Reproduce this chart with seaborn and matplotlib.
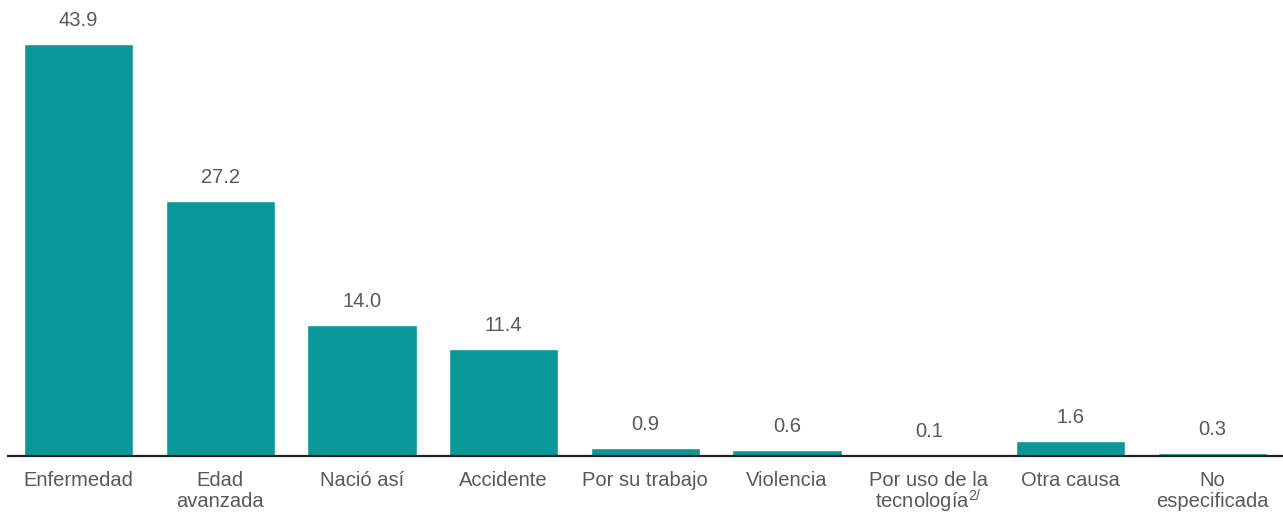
import pandas as pd
import matplotlib
matplotlib.use('Agg')
import matplotlib.pyplot as plt
import seaborn as sns

# --- Data ---
categories = ['Enfermedad', 'Edad\navanzada', 'Nació así', 'Accidente', 'Por su trabajo',
              'Violencia', 'Por uso de la\ntecnología$^{\\mathregular{2/}}$', 'Otra causa',
              'No\nespecificada']
values = [43.9, 27.2, 14.0, 11.4, 0.9, 0.6, 0.1, 1.6, 0.3]
value_labels = ['43.9', '27.2', '14.0', '11.4', '0.9', '0.6', '0.1', '1.6', '0.3']

BAR_COLOR = '#0A9799'
TEXT_COLOR = '#595959'
FS = 14.5

sns.set_theme(style='white')
plt.rcParams['font.family'] = ['Liberation Sans', 'DejaVu Sans']
plt.rcParams['mathtext.fontset'] = 'custom'
plt.rcParams['mathtext.rm'] = 'Liberation Sans'

df = pd.DataFrame({'cat': categories, 'val': values})

fig = plt.figure(figsize=(12.83, 5.15), dpi=100)
ax = fig.add_axes([0.006, 0.1146, 0.994, 0.8854])

sns.barplot(data=df, x='cat', y='val', color=BAR_COLOR, saturation=1, width=0.77, ax=ax)

# value labels above bars
for i, (v, lab) in enumerate(zip(values, value_labels)):
    ax.annotate(lab, (i, v), xytext=(0, 10), textcoords='offset points',
                ha='center', va='bottom', fontsize=FS, color=TEXT_COLOR)

ax.set_ylim(0, 48.6)
ax.set_xlim(-0.5, 8.5)
ax.set_xlabel('')
ax.set_ylabel('')
ax.set_yticks([])
for side in ['top', 'right', 'left']:
    ax.spines[side].set_visible(False)
ax.spines['bottom'].set_color('#222222')
ax.spines['bottom'].set_linewidth(1.6)
ax.tick_params(axis='x', length=0, pad=11, labelsize=FS, labelcolor=TEXT_COLOR)
for t in ax.get_xticklabels():
    # the mathtext superscript makes that line taller, so tighten it
    t.set_linespacing(0.9 if '$' in t.get_text() else 1.12)
    t.set_va('top')

fig.savefig('out.png', dpi=100)
